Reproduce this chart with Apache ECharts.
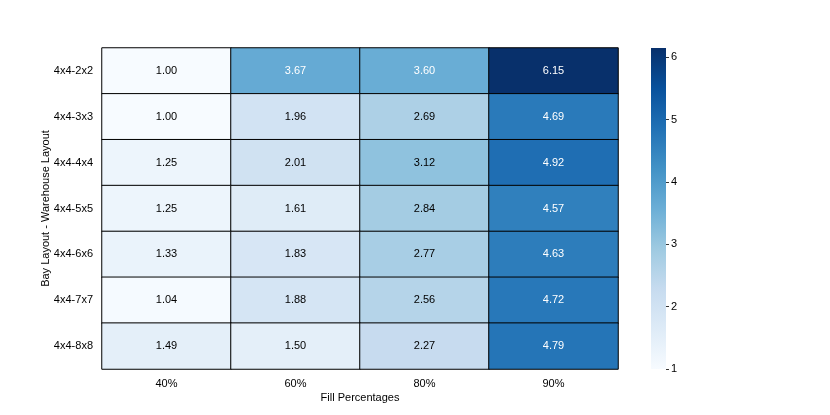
<!DOCTYPE html>
<html><head><meta charset="utf-8">
<script src="https://cdn.jsdelivr.net/npm/echarts@6/dist/echarts.min.js"></script>
<style>html,body{margin:0;padding:0;background:#fff}#c{width:830px;height:415px}</style>
</head><body><div id="c"></div>
<script>
const fills = ['40%', '60%', '80%', '90%'];
const layouts = ['4x4-2x2', '4x4-3x3', '4x4-4x4', '4x4-5x5', '4x4-6x6', '4x4-7x7', '4x4-8x8'];
const v2x2 = [1.00, 3.67, 3.60, 6.15];
const v3x3 = [1.00, 1.96, 2.69, 4.69];
const v4x4 = [1.25, 2.01, 3.12, 4.92];
const v5x5 = [1.25, 1.61, 2.84, 4.57];
const v6x6 = [1.33, 1.83, 2.77, 4.63];
const v7x7 = [1.04, 1.88, 2.56, 4.72];
const v8x8 = [1.49, 1.50, 2.27, 4.79];
const colorbarTicks = [1, 2, 3, 4, 5, 6];

const rows = [v2x2, v3x3, v4x4, v5x5, v6x6, v7x7, v8x8];
const vmin = 1.00, vmax = 6.15;
const data = [];
rows.forEach((r, yi) => r.forEach((v, xi) => {
  data.push({value: [xi, yi, v], label: {color: v > 3.4 ? '#ffffff' : '#000000'}});
}));
const blues = ['#f7fbff','#deebf7','#c6dbef','#9ecae1','#6baed6','#4292c6','#2171b5','#08519c','#08306b'];
const font = 'Liberation Sans, Arial, sans-serif';
const chart = echarts.init(document.getElementById('c'));
chart.setOption({
  animation: false,
  textStyle: {fontFamily: font},
  grid: [
    {left: 102, right: 212, top: 48, bottom: 46},
    {left: 651, width: 15, top: 48, bottom: 46}
  ],
  xAxis: [
    {type: 'category', data: fills, gridIndex: 0, axisLine: {show: false}, axisTick: {show: false},
     axisLabel: {color: '#000', fontSize: 11, margin: 9}, splitLine: {show: false},
     name: 'Fill Percentages', nameLocation: 'middle', nameGap: 23, nameMoveOverlap: false,
     nameTextStyle: {color: '#000', fontSize: 11}},
    {type: 'value', gridIndex: 1, min: 0, max: 1, show: false}
  ],
  yAxis: [
    {type: 'category', data: layouts, inverse: true, gridIndex: 0, axisLine: {show: false}, axisTick: {show: false},
     axisLabel: {color: '#000', fontSize: 11, margin: 9}, splitLine: {show: false},
     name: 'Bay Layout - Warehouse Layout', nameLocation: 'middle', nameGap: 51, nameRotate: 90,
     nameMoveOverlap: false, nameTextStyle: {color: '#000', fontSize: 11}},
    {type: 'value', gridIndex: 1, min: vmin, max: vmax, position: 'right', splitLine: {show: false},
     axisLine: {show: false, onZero: false},
     axisTick: {show: true, inside: false, length: 3, lineStyle: {color: '#333'}, customValues: colorbarTicks},
     axisLabel: {color: '#000', fontSize: 11, margin: 5, customValues: colorbarTicks}}
  ],
  visualMap: {
    type: 'continuous', min: vmin, max: vmax, seriesIndex: 0, show: false, inRange: {color: blues}
  },
  series: [{
    type: 'heatmap', xAxisIndex: 0, yAxisIndex: 0, data: data,
    itemStyle: {borderColor: '#000', borderWidth: 1},
    label: {show: true, fontSize: 11, fontFamily: font, formatter: p => p.value[2].toFixed(2)},
    emphasis: {disabled: true}
  }, {
    type: 'custom', xAxisIndex: 1, yAxisIndex: 1, data: [[0, 1, vmin, vmax]], silent: true,
    renderItem: function (params, api) {
      const p0 = api.coord([api.value(0), api.value(2)]);
      const p1 = api.coord([api.value(1), api.value(3)]);
      const stops = blues.map((c, i) => ({offset: i / (blues.length - 1), color: c}));
      return {
        type: 'rect',
        shape: {x: p0[0], y: p1[1], width: p1[0] - p0[0], height: p0[1] - p1[1]},
        style: {fill: new echarts.graphic.LinearGradient(0, 1, 0, 0, stops)}
      };
    }
  }]
});
</script></body></html>
